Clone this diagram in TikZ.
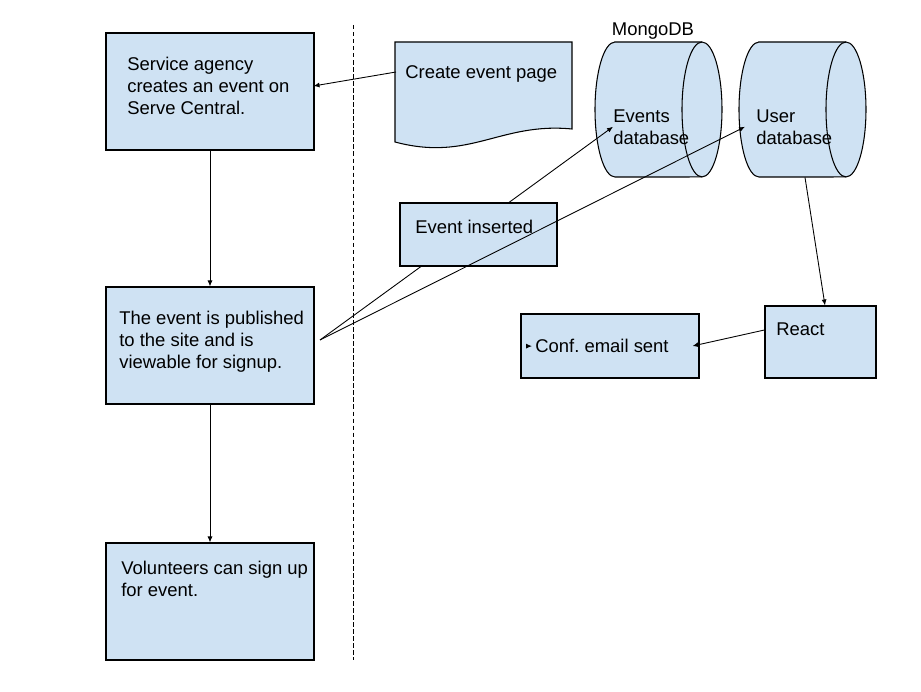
\documentclass[tikz,border=0pt]{standalone}
\usepackage{fontspec}
\setmainfont{Liberation Sans}
\frenchspacing
\usetikzlibrary{shapes.geometric, arrows.meta, positioning, calc}
\definecolor{boxblue}{HTML}{CFE2F3}

\tikzset{
  box/.style={rectangle, draw=black, fill=boxblue, line width=0.6pt, inner sep=0pt},
  txt/.style={anchor=north west, inner sep=0pt, align=left, font=\fontsize{10.5}{12.5}\selectfont},
  arr/.style={-{Latex[length=1.2mm, width=1mm]}, line width=0.5pt},
  dbarea/.style={rectangle, minimum width=2.54cm, minimum height=2.7cm, inner sep=0pt},
  dbline/.style={draw=black, fill=boxblue, line width=0.6pt}
}

\begin{document}
\begin{tikzpicture}[x=0.02cm, y=-0.02cm]
  \useasboundingbox (0,0) rectangle (921,692);

  % Divider
  \draw[line width=0.5pt, dash pattern=on 2.5pt off 1.5pt] (353,25) -- (353,660);

  % Left column
  \node[box, minimum width=4.16cm, minimum height=2.34cm] (service) at (210,91.5) {};
  \node[txt] (servicetext) at (127,57) {Service agency\\creates an event on\\Serve Central.};
  \node[box, minimum width=4.16cm, minimum height=2.34cm] (published) at (210,345.5) {};
  \node[txt] (publishedtext) at (119,311) {The event is published\\to the site and is\\viewable for signup.};
  \node[box, minimum width=4.16cm, minimum height=2.34cm] (volunteers) at (210,601.5) {};
  \node[txt] (volunteerstext) at (121,561) {Volunteers can sign up\\for event.};

  \draw[arr] (service.south) -- (published.north);
  \draw[arr] (published.south) -- (volunteers.north);

  % Create event page
  \filldraw[dbline] (395,42) -- (572,42) -- (572,129) .. controls (500,122) and (470,162) .. (395,142) -- cycle;
  \coordinate (createpage) at (396,72);
  \node[txt] (createtext) at (405,65) {Create event page};
  \draw[arr] (createpage) -- ($(service.east)+(-1,-5.5)$);

  % Databases
  \node[font=\fontsize{10.5}{12.5}\selectfont] (mongolabel) at (653,31) {MongoDB};
  \foreach \cx/\nm in {658.5/eventsdb, 802.5/userdb} {
    \node[dbarea] (\nm) at (\cx,109.5) {};
    \filldraw[dbline] (\cx-43.5,42) -- (\cx+43.5,42)
      arc[start angle=90, end angle=-90, x radius=0.4cm, y radius=1.35cm]
      -- (\cx-43.5,177)
      arc[start angle=270, end angle=90, x radius=0.4cm, y radius=1.35cm] -- cycle;
    \draw[line width=0.6pt] (\cx+43.5,42)
      arc[start angle=90, end angle=270, x radius=0.4cm, y radius=1.35cm];
  }
  \node[txt] (eventstext) at (613,109) {Events\\database};
  \node[txt] (usertext) at (756,109) {User\\database};

  \coordinate (pubout) at (320,340);
  \draw[arr] (pubout) -- (eventstext.west);

  \node[box, minimum width=3.14cm, minimum height=1.26cm] (inserted) at (478.5,234.5) {};
  \node[txt] (insertedtext) at (415,220) {Event inserted};

  \draw[arr] (pubout) -- ($(usertext.west)+(-11,0)$);

  % Notification
  \node[box, minimum width=2.22cm, minimum height=1.44cm] (react) at (820.5,342) {};
  \node[txt] (reacttext) at (776,322) {React};
  \node[box, minimum width=3.56cm, minimum height=1.28cm] (confmail) at (610,346) {};
  \node[txt] (conftext) at (535,339) {Conf. email sent};

  \draw[arr] ($(userdb.south)+(2.5,0)$) -- ($(react.north)+(4.5,0)$);
  \draw[arr] ($(react.west)+(0,-12)$) -- ($(confmail.east)+(-7,0)$);
  \draw[arr] ($(conftext.west)+(-9,0)$) -- ($(conftext.west)+(-3,0)$);
\end{tikzpicture}
\end{document}
